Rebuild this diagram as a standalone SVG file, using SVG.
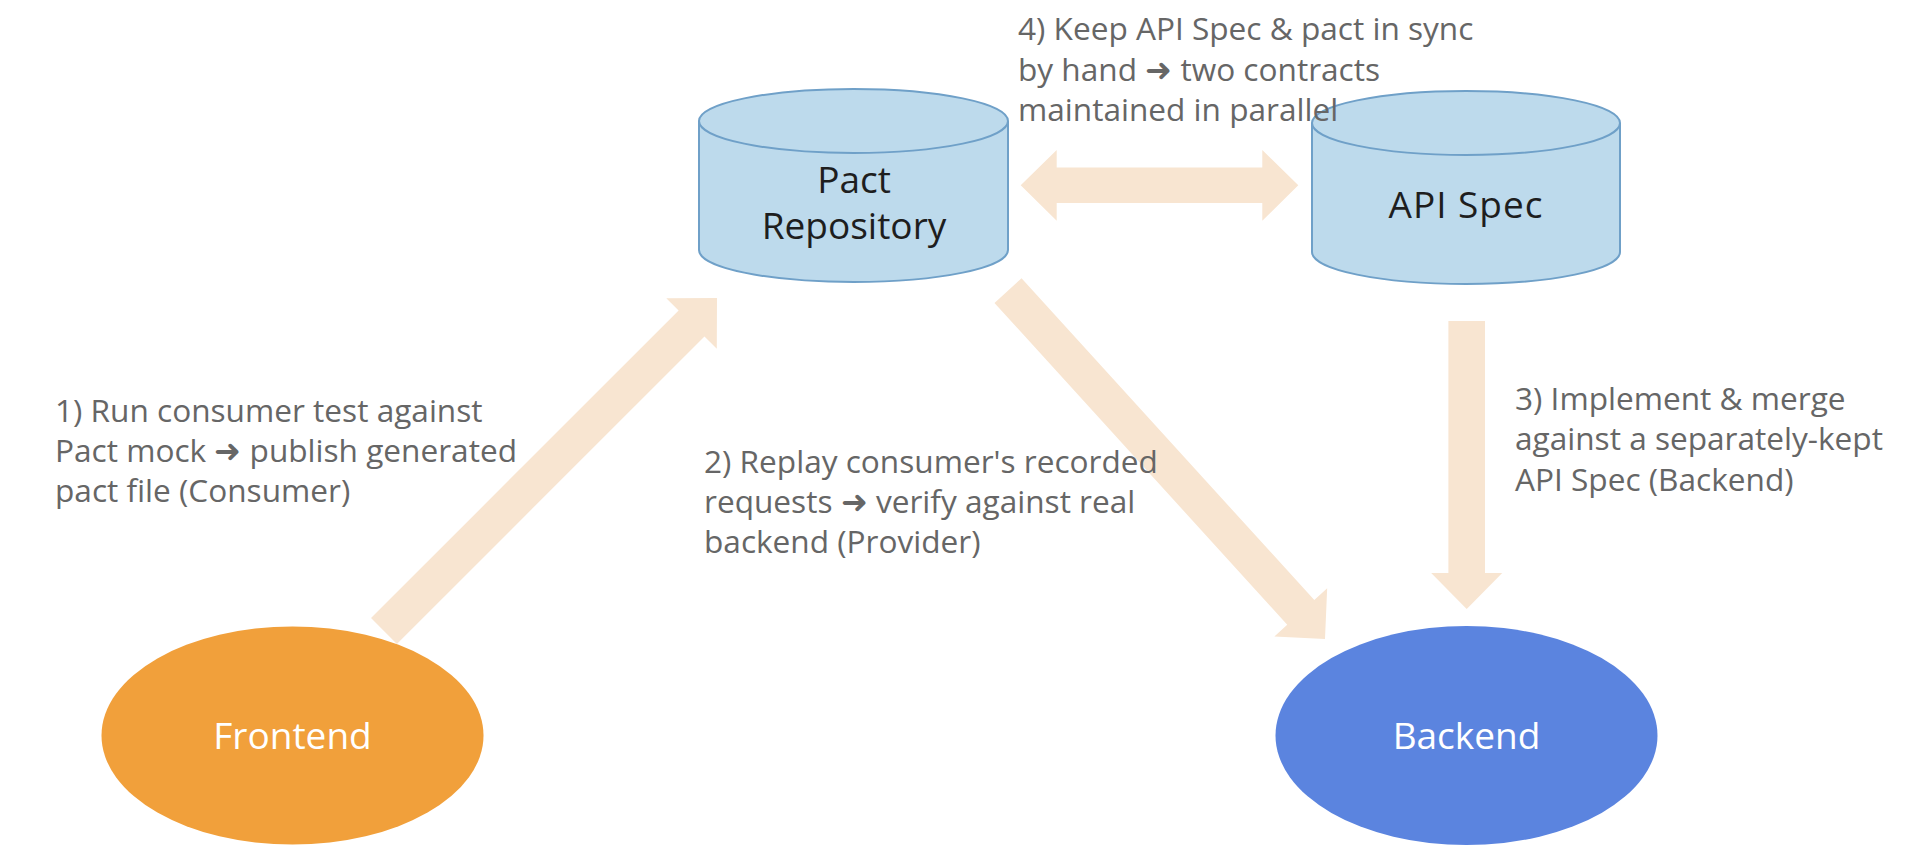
<svg xmlns="http://www.w3.org/2000/svg" width="1910" height="866" viewBox="0 0 1910 866">
<defs>
<style>
.arrow{fill:#F8E5D1;stroke:none}
.cyl{fill:#BDDAEC;stroke:#6FA0C8;stroke-width:2}
.node-txt{font-family:"Open Sans","Liberation Sans",sans-serif;font-size:37px;text-anchor:middle}
.dark{fill:#1E1E1E}
.light{fill:#FFFFFF}
.lbl{font-family:"Open Sans","Liberation Sans",sans-serif;font-size:31.6px;fill:#666666}
</style>
</defs>
<rect width="1910" height="866" fill="#FFFFFF"/>
<g id="connectors">
<polygon class="arrow" transform="translate(717,298) rotate(-45)" points="0,0 -36,-35.7 -36,-18.3 -471,-18.3 -471,18.3 -36,18.3 -36,35.7"/>
<polygon class="arrow" transform="translate(1325,639) rotate(47.7)" points="0,0 -36,-35.7 -36,-18.3 -471,-18.3 -471,18.3 -36,18.3 -36,35.7"/>
<polygon class="arrow" transform="translate(1466.7,609) rotate(90)" points="0,0 -36,-35.5 -36,-18.3 -288,-18.3 -288,18.3 -36,18.3 -36,35.5"/>
<polygon class="arrow" points="1020.7,185.3 1056.7,150 1056.7,167.5 1262.3,167.5 1262.3,150 1298.3,185.3 1262.3,220.7 1262.3,203 1056.7,203 1056.7,220.7"/>
</g>
<g id="pact-repository">
<path class="cyl" d="M699,121 L699,250 A154.5,32 0 0 0 1008,250 L1008,121"/>
<ellipse class="cyl" cx="853.5" cy="121" rx="154.5" ry="32"/>
<text class="node-txt dark" x="854" y="193">Pact</text>
<text class="node-txt dark" x="854" y="239">Repository</text>
</g>
<g id="api-spec">
<path class="cyl" d="M1312,123 L1312,252 A154,32 0 0 0 1620,252 L1620,123"/>
<ellipse class="cyl" cx="1466" cy="123" rx="154" ry="32"/>
<text class="node-txt dark" x="1466" y="218" letter-spacing="1">API Spec</text>
</g>
<g id="frontend">
<ellipse cx="292.5" cy="735.5" rx="191" ry="109" fill="#F1A03B"/>
<text class="node-txt light" x="292.5" y="749">Frontend</text>
</g>
<g id="backend">
<ellipse cx="1466.5" cy="735.5" rx="191" ry="109.5" fill="#5B84DF"/>
<text class="node-txt light" x="1466.5" y="749">Backend</text>
</g>
<g id="labels">
<text class="lbl" x="55" y="422">1) Run consumer test against</text>
<text class="lbl" x="55" y="462">Pact mock ➜ publish generated</text>
<text class="lbl" x="55" y="502">pact file (Consumer)</text>
<text class="lbl" x="704" y="473">2) Replay consumer's recorded</text>
<text class="lbl" x="704" y="513">requests ➜ verify against real</text>
<text class="lbl" x="704" y="553">backend (Provider)</text>
<text class="lbl" x="1515" y="410">3) Implement &amp; merge</text>
<text class="lbl" x="1515" y="450">against a separately-kept</text>
<text class="lbl" x="1515" y="491">API Spec (Backend)</text>
<text class="lbl" x="1018" y="40">4) Keep API Spec &amp; pact in sync</text>
<text class="lbl" x="1018" y="81">by hand ➜ two contracts</text>
<text class="lbl" x="1018" y="121">maintained in parallel</text>
</g>
</svg>
